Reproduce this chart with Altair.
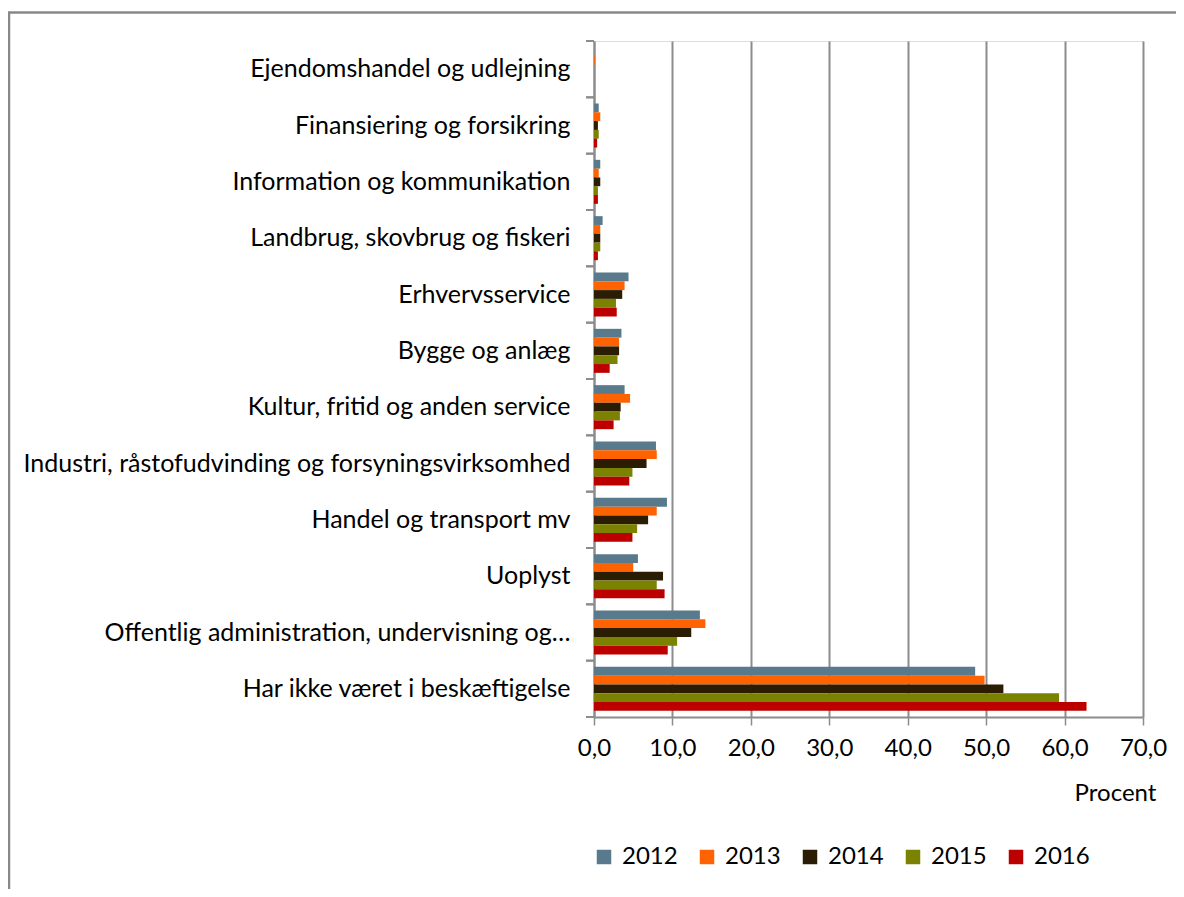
import altair as alt
import pandas as pd

categories = [
    "Ejendomshandel og udlejning",
    "Finansiering og forsikring",
    "Information og kommunikation",
    "Landbrug, skovbrug og fiskeri",
    "Erhvervsservice",
    "Bygge og anlæg",
    "Kultur, fritid og anden service",
    "Industri, råstofudvinding og forsyningsvirksomhed",
    "Handel og transport mv",
    "Uoplyst",
    "Offentlig administration, undervisning og…",
    "Har ikke været i beskæftigelse",
]
years = ["2012", "2013", "2014", "2015", "2016"]
v2012 = [0.0, 0.6, 0.8, 1.1, 4.4, 3.5, 3.9, 7.9, 9.3, 5.6, 13.5, 48.6]
v2013 = [0.1, 0.8, 0.6, 0.8, 3.9, 3.2, 4.6, 8.0, 8.0, 5.0, 14.2, 49.8]
v2014 = [0.0, 0.5, 0.8, 0.8, 3.6, 3.2, 3.4, 6.7, 6.9, 8.8, 12.4, 52.2]
v2015 = [0.0, 0.6, 0.5, 0.8, 2.8, 3.0, 3.3, 4.9, 5.5, 8.0, 10.6, 59.3]
v2016 = [0.0, 0.4, 0.5, 0.5, 2.9, 2.0, 2.5, 4.5, 4.9, 9.0, 9.4, 62.8]
colors = ["#587A8C", "#FF6200", "#2B1D04", "#7B8200", "#BC0000"]
x_ticks = [0, 10, 20, 30, 40, 50, 60, 70]

series = [v2012, v2013, v2014, v2015, v2016]
rows = []
for yr, vals in zip(years, series):
    for c, v in zip(categories, vals):
        rows.append({"cat": c, "year": yr, "value": v})
df = pd.DataFrame(rows)
cat_df = pd.DataFrame({"cat": categories})

FONT = "Lato"
FS = 24
GRAY = "#8C8C8C"

y_enc = alt.Y(
    "cat:N",
    sort=categories,
    scale=alt.Scale(paddingInner=0, paddingOuter=0),
    axis=alt.Axis(
        title=None,
        ticks=False,
        domain=True,
        domainColor=GRAY,
        domainWidth=2,
        labelPadding=24,
        labelFontSize=25,
        labelFont=FONT,
        labelColor="#000000",
        labelLimit=700,
        grid=False,
    ),
)

bars = alt.Chart(df).mark_bar().encode(
    x=alt.X(
        "value:Q",
        scale=alt.Scale(domain=[0, 70], nice=False),
        axis=alt.Axis(
            values=x_ticks,
            grid=True,
            gridColor=GRAY,
            gridWidth=2,
            domainColor=GRAY,
            domainWidth=2,
            tickColor=GRAY,
            tickWidth=1.5,
            tickSize=8,
            labelExpr="replace(format(datum.value, '.1f'), '.', ',')",
            labelFont=FONT,
            labelFontSize=FS,
            labelColor="#000000",
            labelPadding=11,
            labelFlush=False,
            labelOverlap=False,
            title="Procent",
            titleFont=FONT,
            titleFontSize=FS,
            titleFontWeight="normal",
            titleColor="#000000",
            titleX=521,
            titleY=76,
            titleAlign="center",
            titleBaseline="middle",
            titleAngle=0,
        ),
    ),
    y=y_enc,
    yOffset=alt.YOffset("year:N", sort=years, scale=alt.Scale(paddingInner=0, paddingOuter=0.7)),
    color=alt.Color(
        "year:N",
        sort=years,
        scale=alt.Scale(domain=years, range=colors),
        legend=alt.Legend(
            title=None,
            orient="none",
            legendX=-2,
            legendY=804,
            direction="horizontal",
            columns=5,
            symbolType="square",
            symbolSize=210,
            symbolStrokeWidth=0,
            labelFont=FONT,
            labelFontSize=FS,
            labelColor="#000000",
            labelOffset=6,
            columnPadding=17,
            padding=0,
        ),
    ),
)

ticks_top = alt.Chart(cat_df).mark_rule(color=GRAY, strokeWidth=2).encode(
    y=alt.Y("cat:N", sort=categories, bandPosition=0),
    x=alt.value(-8),
    x2=alt.value(0),
)
ticks_bottom = alt.Chart(cat_df).mark_rule(color=GRAY, strokeWidth=2).encode(
    y=alt.Y("cat:N", sort=categories, bandPosition=1),
    x=alt.value(-8),
    x2=alt.value(0),
)

frame_left = alt.Chart(cat_df.head(1)).mark_rule(color="#888888", strokeWidth=2.5).encode(
    x=alt.value(-585), y=alt.value(-28.5), y2=alt.value(900)
)
frame_top = alt.Chart(cat_df.head(1)).mark_rule(color="#888888", strokeWidth=2.5).encode(
    x=alt.value(-586), x2=alt.value(700), y=alt.value(-28.5)
)

chart = (
    alt.layer(bars, ticks_top, ticks_bottom, frame_left, frame_top)
    .properties(
        width=549,
        height=676,
        autosize=alt.AutoSizeParams(type="none"),
        padding={"left": 586, "top": 33, "right": 33, "bottom": 172},
    )
    .configure_view(stroke=None)
    .configure(background="#FFFFFF")
)

chart.save("out.html", embed_options={"renderer": "svg", "actions": False})
